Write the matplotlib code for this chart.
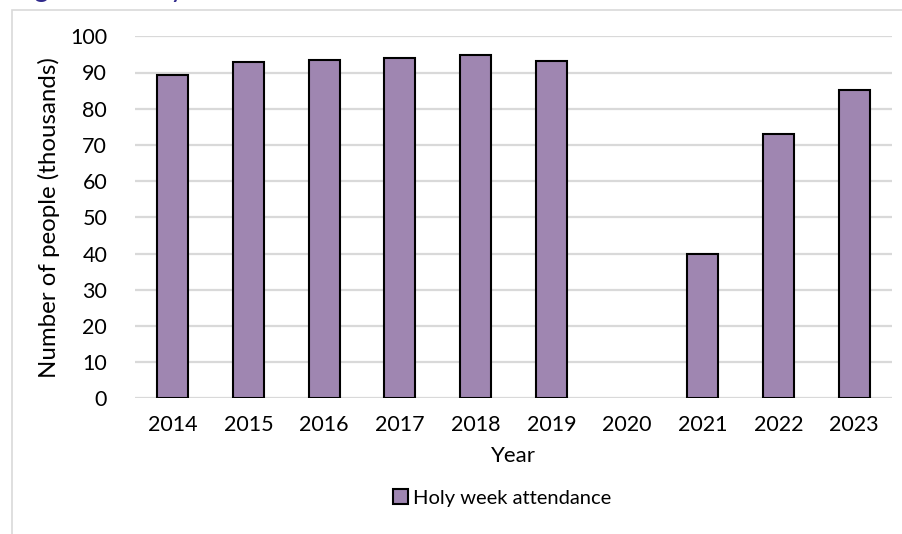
import matplotlib
matplotlib.use("Agg")
import matplotlib.pyplot as plt
import numpy as np
from matplotlib.patches import Rectangle

years = ["2014", "2015", "2016", "2017", "2018", "2019", "2020", "2021", "2022", "2023"]
attendance = [89.2, 92.8, 93.4, 94.1, 94.9, 93.2, np.nan, 39.8, 73.1, 85.2]
series_name = "Holy week attendance"
y_ticks = [0, 10, 20, 30, 40, 50, 60, 70, 80, 90, 100]

plt.rcParams['font.family'] = ['Lato', 'DejaVu Sans']

W, H = 903, 534
fig = plt.figure(figsize=(W / 100, H / 100), dpi=100)

# outer chart frame (partially cropped)
fig.patches.append(Rectangle((12 / W, -0.1), 1.2, 1 - 10 / H + 0.1,
                             transform=fig.transFigure, fill=False,
                             edgecolor='#D9D9D9', linewidth=1.2))

# cropped title (only descenders visible, as in the reference)
fig.text(12 / W, 1 + 3 / H, "Figure 1: Holy week attendance", color='#302A8C',
         fontsize=20, ha='left', va='baseline')

ax = fig.add_axes([135 / W, 1 - 398.3 / H, (892 - 135) / W, (398.3 - 36.3) / H])
x = np.arange(len(years))
ax.bar(x, attendance, width=0.41, color='#9F86B1', edgecolor='black',
       linewidth=1.5, label=series_name, zorder=3)

ax.set_xlim(-0.5, len(years) - 0.5)
ax.set_ylim(0, 100)
ax.set_yticks(y_ticks)
ax.set_xticks(x)
ax.set_xticklabels(years)
ax.tick_params(axis='both', length=0, labelsize=15.5, colors='black')
ax.tick_params(axis='x', pad=12)
ax.tick_params(axis='y', pad=20)
ax.grid(axis='y', color='#D9D9D9', linewidth=1.6, zorder=0)
for s in ax.spines.values():
    s.set_visible(False)

ax.set_ylabel("Number of people (thousands)", fontsize=17.3, labelpad=7)
ax.set_xlabel("Year", fontsize=16, labelpad=8)

leg = fig.legend(loc='center', bbox_to_anchor=(502 / W, 1 - 498 / H), frameon=False,
                 fontsize=14.5, handlelength=0.75, handleheight=0.75, handletextpad=0.25)

fig.savefig("out.png", dpi=100, facecolor='white')
